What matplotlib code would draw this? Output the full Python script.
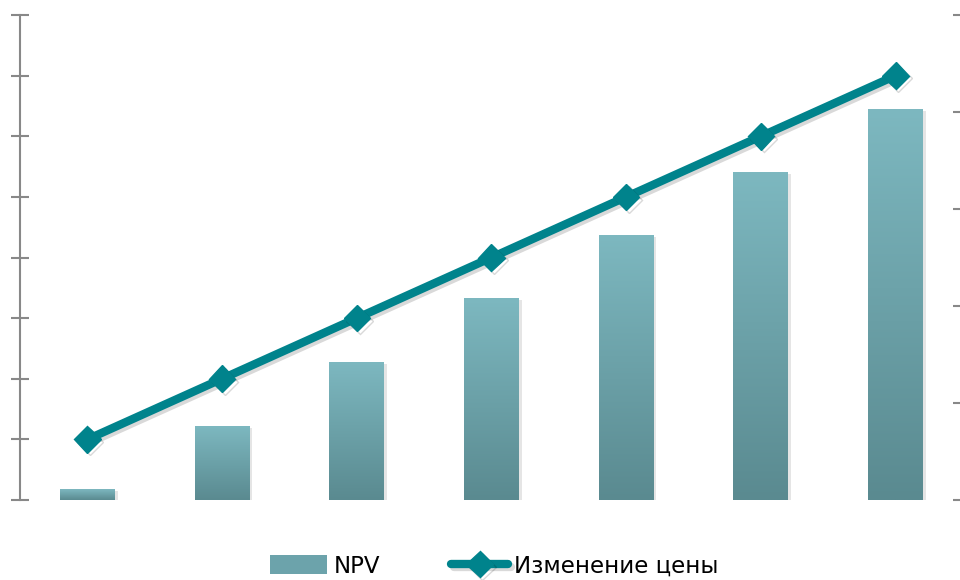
import numpy as np
import matplotlib
matplotlib.use("Agg")
import matplotlib.pyplot as plt
import matplotlib.patheffects as pe
from matplotlib.colors import LinearSegmentedColormap
from matplotlib.patches import Patch

# data (axis labels are hidden in the source)
categories = ["1", "2", "3", "4", "5", "6", "7"]
npv = [0.11, 0.76, 1.42, 2.08, 2.73, 3.38, 4.03]
price_change = [1, 2, 3, 4, 5, 6, 7]

plt.rcParams['font.family'] = ['DejaVu Sans']

fig = plt.figure(figsize=(9.6, 5.8), dpi=100)
ax = fig.add_axes([20 / 960, 80 / 580, 943 / 960, 485 / 580])
ax2 = ax.twinx()

x = np.arange(len(categories))
bar_w = 55 / 134.75

# bars on the right axis, gradient fill
cmap = LinearSegmentedColormap.from_list("npv", ["#5a8a90", "#7db8c0"])
grad = np.linspace(0, 1, 256).reshape(-1, 1)
bars = ax2.bar(x, npv, width=bar_w, color="none", edgecolor="none")
for b in bars:
    x0, w, h = b.get_x(), b.get_width(), b.get_height()
    ax2.bar(x0 + w / 2 + 0.02, h, width=w, bottom=-0.02, color="#000000",
            alpha=0.10, zorder=1)
    im = ax2.imshow(grad, cmap=cmap, origin="lower", aspect="auto",
                    extent=[x0, x0 + w, 0, h], zorder=2)
    im.set_clip_path(b)

ax2.set_ylim(0, 5)
ax2.set_xlim(-0.5, len(categories) - 0.5)
ax2.set_yticks(range(6))
ax2.set_yticklabels([])
ax2.tick_params(axis='y', direction='in', length=7, width=1.5, color="#888888")
for s in ax2.spines.values():
    s.set_visible(False)

# line on the left axis
line, = ax.plot(x, price_change, color="#00838c", lw=6, marker="D", ms=13.5,
                solid_capstyle="round",
                path_effects=[pe.SimpleLineShadow(offset=(2, -2), alpha=0.15),
                              pe.Normal()])
ax.set_zorder(ax2.get_zorder() + 1)
ax.patch.set_visible(False)
ax.set_ylim(0, 8)
ax.set_xlim(-0.5, len(categories) - 0.5)
ax.set_yticks(range(9))
ax.set_yticklabels([])
ax.set_xticks([])
ax.tick_params(axis='y', direction='inout', length=13, width=1.5, color="#888888")
for name, s in ax.spines.items():
    s.set_visible(name == "left")
ax.spines["left"].set_color("#888888")
ax.spines["left"].set_linewidth(1.5)

npv_handle = Patch(facecolor="#6ca3ab", edgecolor="none")
fig.legend([npv_handle, line], ["NPV", "Изменение цены"], loc="center",
           bbox_to_anchor=(0.515, 0.024), ncol=2, frameon=False, fontsize=16.5,
           handlelength=2.5, handleheight=0.9, columnspacing=3.1,
           handletextpad=0.27, borderpad=0)

fig.savefig("out.png", dpi=100, facecolor="white")
